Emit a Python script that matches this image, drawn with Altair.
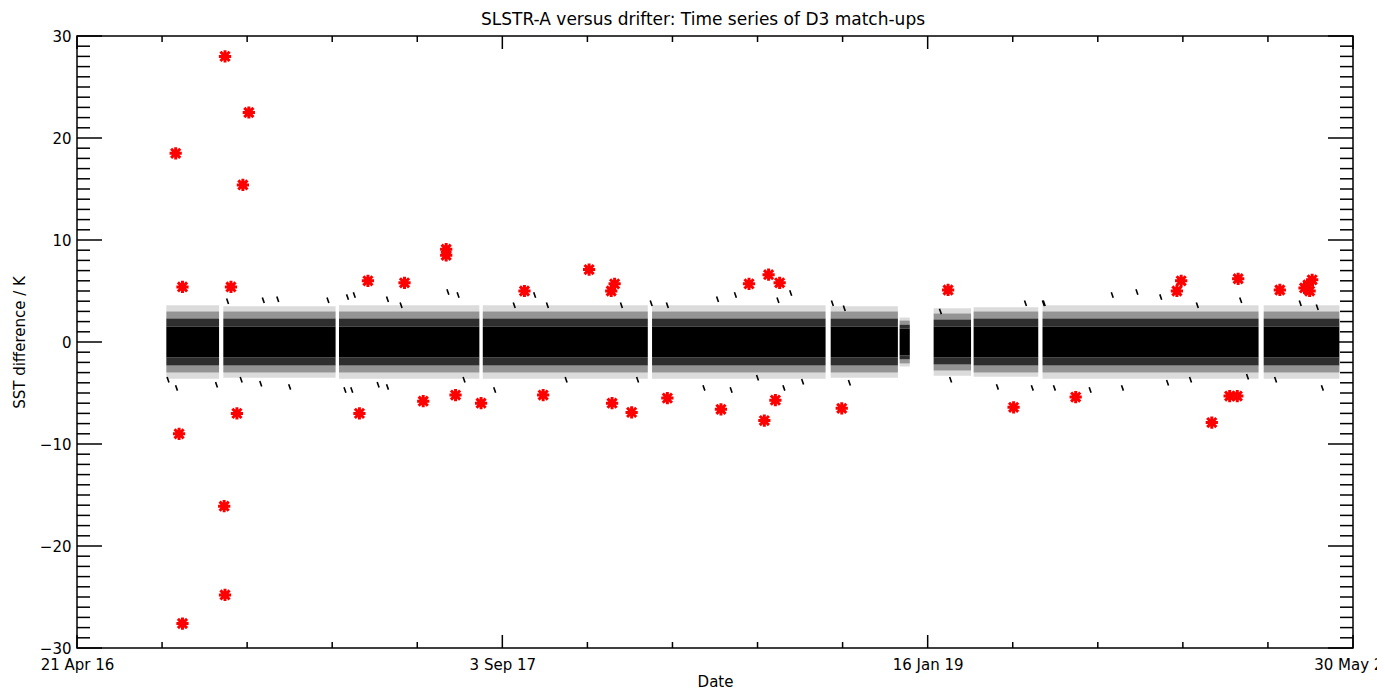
import altair as alt
import pandas as pd

# ---------------- data ----------------
# dense black cloud of match-ups: contiguous data segments
seg_start = ["2016-08-04", "2016-10-10", "2017-02-23", "2017-08-11", "2018-02-26",
             "2018-09-24", "2018-12-14", "2019-01-23", "2019-03-11", "2019-05-31",
             "2020-02-15"]
seg_end = ["2016-10-05", "2017-02-19", "2017-08-07", "2018-02-21", "2018-09-18",
           "2018-12-12", "2018-12-26", "2019-03-08", "2019-05-26", "2020-02-09",
           "2020-05-14"]
seg_core = [1.5, 1.5, 1.5, 1.5, 1.5, 1.5, 1.3, 1.5, 1.5, 1.5, 1.5]     # solid black half-width (K)
seg_inner = [2.3, 2.3, 2.3, 2.3, 2.3, 2.3, 1.7, 2.2, 2.3, 2.3, 2.3]    # dense fringe
seg_mid = [3.0, 3.0, 3.0, 3.0, 3.0, 3.0, 2.1, 2.8, 3.0, 3.0, 3.0]      # medium fringe
seg_outer = [3.6, 3.5, 3.6, 3.6, 3.6, 3.5, 2.4, 3.3, 3.4, 3.6, 3.6]    # sparse fringe

# isolated black match-ups outside the dense cloud
tail_date = ["2016-10-15", "2016-11-26", "2016-12-13", "2017-02-10", "2017-03-05",
             "2017-03-13", "2017-04-21", "2017-05-07", "2017-07-01",
             "2016-08-16", "2016-08-06", "2016-10-02", "2016-10-31", "2016-11-23",
             "2016-12-27", "2017-03-02", "2017-03-10", "2017-04-10", "2017-04-21",
             "2017-07-13", "2017-09-17", "2017-10-11", "2017-10-26", "2018-01-21",
             "2018-02-25", "2018-03-16", "2018-05-14", "2018-06-04",
             "2018-05-30", "2017-08-25", "2017-11-17", "2018-02-09", "2018-04-28",
             "2017-07-20",
             "2018-07-24", "2018-08-08", "2018-09-26", "2018-10-10", "2019-01-31",
             "2019-05-11", "2019-06-01",
             "2018-07-31", "2018-08-22", "2018-10-16", "2019-04-08", "2019-05-19",
             "2019-02-12", "2018-06-30",
             "2019-06-02", "2019-08-21", "2019-09-19", "2019-10-17", "2019-11-29",
             "2020-01-19", "2020-03-29", "2020-04-18",
             "2019-06-14", "2019-07-26", "2019-09-02", "2019-10-25", "2019-11-21",
             "2020-02-29", "2020-04-24", "2020-01-27"]
tail_val = [4.0, 4.1, 4.2, 4.1, 4.4,
            4.6, 4.2, 3.6, 4.9,
            -4.5, -3.7, -4.2, -3.7, -4.1,
            -4.4, -4.7, -4.7, -4.2, -4.4,
            4.6, 3.6, 4.6, 3.6, 3.6,
            3.8, 3.6, 4.2, 4.6,
            -4.7, -4.7, -3.7, -3.7, -4.5,
            -3.7,
            4.1, 4.8, 3.8, 3.3, 3.0,
            3.8, 3.8,
            -4.5, -3.9, -4.0, -4.4, -4.5,
            -3.7, -3.5,
            3.8, 4.6, 4.9, 4.4, 3.6,
            4.1, 3.8, 3.4,
            -4.5, -4.7, -4.5, -4.0, -3.7,
            -3.7, -4.5, -3.4]

# flagged outliers (red asterisks)
red_date = ["2016-08-15", "2016-08-23", "2016-08-19", "2016-08-23", "2016-10-12",
            "2016-10-19", "2016-10-11", "2016-10-12", "2016-10-26", "2016-11-02",
            "2016-11-09", "2017-03-19", "2017-03-29", "2017-05-11", "2017-06-02",
            "2017-06-29", "2017-06-29", "2017-07-10", "2017-08-09", "2017-09-29",
            "2017-10-21", "2017-12-14", "2018-01-09", "2018-01-13", "2018-01-10",
            "2018-02-02", "2018-03-16", "2018-05-18", "2018-06-20", "2018-07-08",
            "2018-07-13", "2018-07-26", "2018-07-21", "2018-10-07", "2019-02-09",
            "2019-04-27", "2019-07-09", "2019-11-05", "2019-11-10", "2019-12-16",
            "2020-01-06", "2020-01-15", "2020-01-16", "2020-03-05", "2020-04-03",
            "2020-04-09", "2020-04-12", "2020-04-07"]
red_val = [18.5, 5.4, -9.0, -27.6, 28.0,
           5.4, -16.1, -24.8, -7.0, 15.4,
           22.5, -7.0, 6.0, 5.8, -5.8,
           9.1, 8.5, -5.2, -6.0, 5.0,
           -5.2, 7.1, 5.0, 5.7, -6.0,
           -6.9, -5.5, -6.6, 5.7, -7.7,
           6.6, 5.8, -5.7, -6.5, 5.1,
           -6.4, -5.4, 5.0, 6.0, -7.9,
           -5.3, -5.3, 6.2, 5.1, 5.3,
           5.0, 6.1, 5.6]

# axis ticks
x_major = ["2016-04-21", "2017-09-03", "2019-01-16", "2020-05-30"]
x_minor = ["2016-07-30", "2016-11-07", "2017-02-15", "2017-05-26", "2017-12-12",
           "2018-03-22", "2018-06-30", "2018-10-08", "2019-04-26", "2019-08-04",
           "2019-11-12", "2020-02-20"]
y_major = [-30, -20, -10, 0, 10, 20, 30]
y_minor = [v for v in range(-30, 31) if v % 10 != 0]

TITLE = "SLSTR-A versus drifter: Time series of D3 match-ups"
FONT = "DejaVu Sans"

# ---------------- layout ----------------
W, H = 1276, 612
PAD = {"left": 69, "top": 28, "right": 24, "bottom": 44}

# ---------------- tables ----------------
def band(lo_list, hi_list):
    return pd.DataFrame({
        "s": seg_start + seg_start, "e": seg_end + seg_end,
        "lo": list(lo_list) + [-v for v in hi_list],
        "hi": list(hi_list) + [-v for v in lo_list]})


core = pd.DataFrame({"s": seg_start, "e": seg_end,
                     "lo": [-c for c in seg_core], "hi": seg_core})
inner = band(seg_core, seg_inner)
mid = band(seg_inner, seg_mid)
outer = band(seg_mid, seg_outer)
tails = pd.DataFrame({"d": tail_date, "v": tail_val})
reds = pd.DataFrame({"d": red_date, "v": red_val})
xmaj = pd.DataFrame({"d": x_major})
xmin = pd.DataFrame({"d": x_minor})
ymaj = pd.DataFrame({"v": y_major})
ymin = pd.DataFrame({"v": y_minor})


def dt(s):
    y, m, d = (int(p) for p in s.split("-"))
    return alt.DateTime(year=y, month=m, date=d, utc=True)


xscale = alt.Scale(type="utc", domain=[dt(x_major[0]), dt(x_major[-1])], nice=False)
yscale = alt.Scale(domain=[-30, 30], nice=False, zero=False)

xaxis = alt.Axis(values=[dt(s) for s in x_major],
                 labelExpr="utcFormat(datum.value, '%-d %b %y')",
                 ticks=False, domain=False, grid=False, labelPadding=9,
                 labelOverlap=False, labelBound=False, labelFlush=False,
                 title="Date", titlePadding=2)
yaxis = alt.Axis(values=y_major, ticks=False, domain=False, grid=False,
                 labelPadding=6, title="SST difference / K", titlePadding=12)

X = lambda f: alt.X(f"{f}:T", scale=xscale)
Y = lambda f: alt.Y(f"{f}:Q", scale=yscale)

core_layer = alt.Chart(core).mark_rect(color="black").encode(
    x=alt.X("s:T", scale=xscale, axis=xaxis), x2="e:T",
    y=alt.Y("lo:Q", scale=yscale, axis=yaxis), y2="hi:Q")
inner_layer = alt.Chart(inner).mark_rect(color="black", opacity=0.82).encode(
    x=X("s"), x2="e:T", y=Y("lo"), y2="hi:Q")
mid_layer = alt.Chart(mid).mark_rect(color="black", opacity=0.42).encode(
    x=X("s"), x2="e:T", y=Y("lo"), y2="hi:Q")
outer_layer = alt.Chart(outer).mark_rect(color="black", opacity=0.14).encode(
    x=X("s"), x2="e:T", y=Y("lo"), y2="hi:Q")

dash = "M-0.35,-1L0.35,1"
tail_layer = alt.Chart(tails).mark_point(
    shape=dash, filled=False, color="black", strokeWidth=1.6, size=30, opacity=1
).encode(x=X("d"), y=Y("v"))

star = "M-1,0L1,0M0,-1L0,1M-0.75,-0.75L0.75,0.75M-0.75,0.75L0.75,-0.75"
red_layer = alt.Chart(reds).mark_point(
    shape=star, filled=False, color="#ff0000", strokeWidth=3, size=150, opacity=1
).encode(x=X("d"), y=Y("v"))

tick_style = dict(color="black", strokeWidth=1.5)
xt_maj_b = alt.Chart(xmaj).mark_rule(**tick_style).encode(
    x=X("d"), y=alt.value(H), y2=alt.value(H - 13))
xt_maj_t = alt.Chart(xmaj).mark_rule(**tick_style).encode(
    x=X("d"), y=alt.value(0), y2=alt.value(13))
xt_min_b = alt.Chart(xmin).mark_rule(**tick_style).encode(
    x=X("d"), y=alt.value(H), y2=alt.value(H - 6))
xt_min_t = alt.Chart(xmin).mark_rule(**tick_style).encode(
    x=X("d"), y=alt.value(0), y2=alt.value(6))
yt_maj_l = alt.Chart(ymaj).mark_rule(**tick_style).encode(
    y=Y("v"), x=alt.value(0), x2=alt.value(25))
yt_maj_r = alt.Chart(ymaj).mark_rule(**tick_style).encode(
    y=Y("v"), x=alt.value(W), x2=alt.value(W - 25))
yt_min_l = alt.Chart(ymin).mark_rule(**tick_style).encode(
    y=Y("v"), x=alt.value(0), x2=alt.value(13))
yt_min_r = alt.Chart(ymin).mark_rule(**tick_style).encode(
    y=Y("v"), x=alt.value(W), x2=alt.value(W - 13))

chart = alt.layer(
    outer_layer, mid_layer, inner_layer, core_layer, tail_layer,
    xt_maj_b, xt_maj_t, xt_min_b, xt_min_t,
    yt_maj_l, yt_maj_r, yt_min_l, yt_min_r,
    red_layer,
).properties(
    width=W, height=H,
    title=alt.TitleParams(TITLE, font=FONT, fontSize=17, fontWeight="normal",
                          color="black", anchor="middle", offset=0, dx=-12),
    autosize=alt.AutoSizeParams(type="none"),
    padding=PAD,
    background="white",
).configure_view(
    stroke="black", strokeWidth=1.5
).configure_axis(
    labelFont=FONT, labelFontSize=15, labelColor="black",
    titleFont=FONT, titleFontSize=15, titleColor="black", titleFontWeight="normal"
)

chart.save("out.html", embed_options={"renderer": "svg", "actions": False})
